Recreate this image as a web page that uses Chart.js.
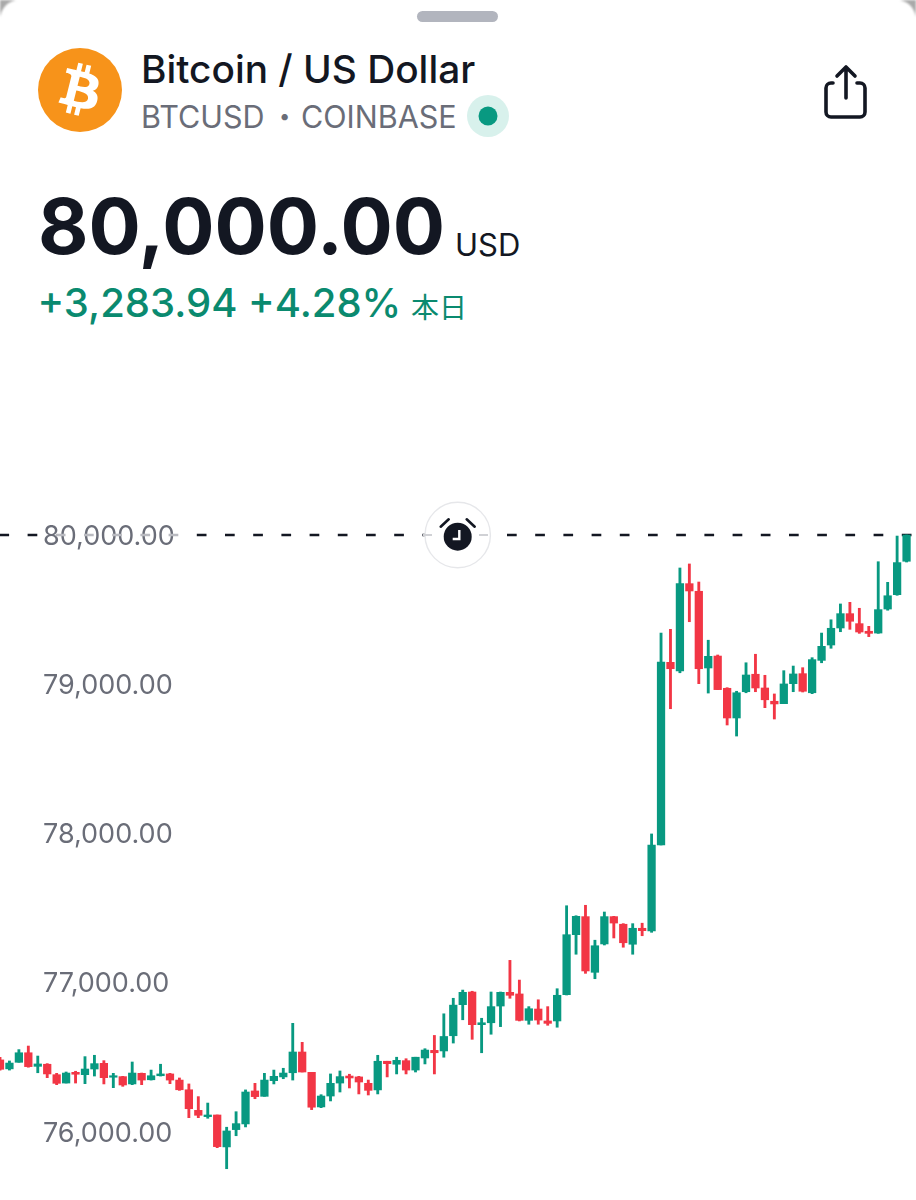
<!DOCTYPE html>
<html><head><meta charset="utf-8">
<script src="https://cdn.jsdelivr.net/npm/chart.js@4"></script>
<style>
html,body{margin:0;padding:0;background:#fff}
#page{position:relative;width:916px;height:1200px;overflow:hidden;background:#fff;font-family:Inter,sans-serif}
#page>*{position:absolute}
.t{white-space:nowrap;line-height:1}
canvas{left:0;top:440px}
</style></head><body>
<script>
const candleLabels = ["0","1","2","3","4","5","6","7","8","9","10","11","12","13","14","15","16","17","18","19","20","21","22","23","24","25","26","27","28","29","30","31","32","33","34","35","36","37","38","39","40","41","42","43","44","45","46","47","48","49","50","51","52","53","54","55","56","57","58","59","60","61","62","63","64","65","66","67","68","69","70","71","72","73","74","75","76","77","78","79","80","81","82","83","84","85","86","87","88","89","90","91","92","93","94","95","96",""];
const opens = [76483,76423,76467,76531,76440,76454,76384,76328,76400,76384,76422,76460,76367,76371,76322,76393,76350,76377,76389,76348,76283,76145,76103,76114,75900,76016,76054,76275,76239,76344,76369,76397,76536,76400,76168,76241,76328,76375,76369,76326,76282,76474,76454,76478,76415,76496,76547,76543,76645,76853,76938,76719,76732,76844,76936,76925,76748,76824,76744,76744,76920,77322,77443,77070,77260,77443,77392,77258,77365,77347,77923,79147,79089,79674,79623,79109,79189,78973,78774,78950,79067,78975,78886,78870,79004,79071,78943,79160,79263,79377,79473,79406,79355,79343,79504,79600,79824];
const highs = [76501,76476,76552,76576,76509,76458,76393,76402,76407,76505,76514,76478,76393,76373,76469,76395,76415,76454,76393,76362,76322,76237,76194,76114,76032,76136,76282,76326,76393,76415,76427,76728,76601,76400,76250,76389,76409,76387,76373,76348,76514,76474,76501,76491,76501,76558,76647,76792,76896,76951,76943,76762,76938,76938,77150,77018,76840,76886,76840,76960,77516,77449,77519,77285,77474,77445,77396,77396,77399,77997,79343,79368,79779,79806,79685,79295,79196,78977,78953,79144,79201,79060,78935,79091,79122,79111,79178,79343,79432,79538,79549,79509,79388,79821,79683,79993,80000];
const lows = [76415,76415,76467,76434,76397,76364,76317,76328,76328,76324,76375,76322,76297,76306,76317,76317,76348,76375,76324,76279,76096,76096,76092,75895,75754,75975,76034,76223,76239,76322,76357,76348,76402,76150,76163,76208,76268,76295,76255,76248,76255,76369,76389,76389,76402,76456,76389,76501,76596,76752,76621,76531,76655,76706,76896,76744,76722,76722,76715,76702,76918,77191,77063,77027,77253,77300,77238,77191,77315,77338,77923,78836,79077,79419,79004,78941,78964,78727,78653,78943,78950,78843,78767,78870,78950,78948,78937,79144,79241,79352,79368,79341,79319,79341,79496,79596,79819];
const closes = [76420,76462,76531,76438,76456,76389,76326,76395,76387,76422,76458,76364,76377,76315,76395,76348,76377,76389,76348,76283,76156,76112,76114,75902,76007,76056,76268,76237,76348,76373,76395,76536,76402,76166,76241,76326,76371,76362,76335,76279,76474,76458,76480,76415,76501,76549,76531,76640,76850,76936,76719,76732,76840,76936,76916,76748,76826,76750,76728,76916,77322,77445,77079,77248,77443,77400,77268,77365,77349,77923,79149,79104,79674,79625,79104,79187,78964,78774,78943,79062,78975,78896,78868,79002,79069,78953,79165,79254,79375,79473,79422,79350,79341,79500,79593,79815,80000];
const priceTicks = [76000,77000,78000,79000,80000];
const lastPrice = 80000;
</script>

<div id="page">
<canvas id="c" width="916" height="760" style="width:916px;height:760px"></canvas>

<svg style="left:0;top:0;filter:blur(0.8px)" width="916" height="24" fill="#a9a9a9">
<path d="M0 0 H16 Q3 3 0 17 Z"/>
<path d="M916 0 H900 Q913 3 916 17 Z"/>
</svg>

<div style="left:417px;top:11px;width:81px;height:11px;border-radius:6px;background:#b2b5be"></div>

<svg style="left:38px;top:48px" width="84" height="84" viewBox="0 0 4091 4091">
<circle cx="2045.5" cy="2045.5" r="2045.5" fill="#F7931A"/>
<path fill="#fff" d="M2947.77 1754.38c40.72,-272.26 -166.56,-418.61 -450,-516.24l91.95 -368.8 -224.5 -55.94 -89.51 359.09c-59.02,-14.72 -119.63,-28.59 -179.87,-42.34l90.16 -361.46 -224.36 -55.94 -92 368.68c-48.84,-11.12 -96.81,-22.11 -143.35,-33.69l0.26 -1.16 -309.59 -77.31 -59.72 239.78c0,0 166.56,38.18 163.05,40.53 90.91,22.69 107.35,82.87 104.62,130.57l-104.74 420.15c6.26,1.59 14.38,3.89 23.34,7.49 -7.49,-1.86 -15.46,-3.89 -23.73,-5.87l-146.81 588.57c-11.11,27.62 -39.31,69.07 -102.87,53.33 2.25,3.26 -163.17,-40.72 -163.17,-40.72l-111.46 256.98 292.15 72.83c54.35,13.63 107.61,27.89 160.06,41.3l-92.9 373.03 224.24 55.94 92 -369.07c61.26,16.63 120.71,31.97 178.91,46.43l-91.69 367.33 224.51 55.94 92.89 -372.33c382.82,72.45 670.67,43.24 791.83,-303.02 97.63,-278.78 -4.86,-439.58 -206.26,-544.44 146.69,-33.83 257.18,-130.31 286.64,-329.61l-0.07 -0.05zm-512.93 719.26c-69.38,278.78 -538.76,128.08 -690.94,90.29l123.28 -494.2c152.17,37.99 640.17,113.17 567.67,403.91zm69.43 -723.3c-63.29,253.58 -453.96,124.75 -580.69,93.16l111.77 -448.21c126.73,31.59 534.85,90.55 468.94,355.05l-0.02 0z"/>
</svg>

<div class="t" style="left:141px;top:49.5px;font-size:38.8px;font-weight:500;color:#131722">Bitcoin / US Dollar</div>
<div class="t" style="left:141px;top:102px;font-size:30.5px;font-weight:400;color:#6a6d78">BTCUSD</div>
<div class="t" style="left:279px;top:106px;font-size:20px;color:#6a6d78">•</div>
<div class="t" style="left:301px;top:102px;font-size:30.5px;font-weight:400;color:#6a6d78">COINBASE</div>
<svg style="left:466px;top:94px" width="44" height="44"><circle cx="22" cy="22" r="21" fill="#d8f1ec"/><circle cx="22" cy="22" r="9.5" fill="#089981"/></svg>

<svg style="left:800px;top:50px" width="90" height="80" fill="none" stroke="#131722" stroke-width="3.6" stroke-linecap="round" stroke-linejoin="round">
<path d="M33 33 H31 a5 5 0 0 0 -5 5 V62 a5 5 0 0 0 5 5 H60 a5 5 0 0 0 5 -5 V38 a5 5 0 0 0 -5 -5 H57"/>
<path d="M46 17 V48 M37 26 L46 17 L55 26"/>
</svg>

<div class="t" style="left:38px;top:188px;font-size:77.6px;font-weight:700;color:#131722">80,000.00</div>
<div class="t" style="left:455px;top:229px;font-size:31px;font-weight:400;color:#131722">USD</div>
<div class="t" style="left:37.5px;top:283px;font-size:40px;font-weight:500;color:#0a8a6f">+3,283.94 +4.28%</div>
<div class="t" style="left:411px;top:292px;font-size:28px;font-family:'Noto Sans CJK JP';color:#0a8a6f">本日</div>

<svg style="left:420px;top:498px" width="76" height="74" fill="none">
<circle cx="37.7" cy="37" r="32.7" fill="#fff" stroke="#e6e7ea" stroke-width="1.4"/>
<circle cx="37.7" cy="38.7" r="14" fill="#131722"/>
<path d="M20.7 28.7 L28.7 21.3 M46.7 21.3 L54.7 28.7" stroke="#131722" stroke-width="2.6" stroke-linecap="round"/>
<path d="M39.3 32 V41 H32.7" stroke="#fff" stroke-width="2.4"/>
<path d="M3 37 H12 M59 37 H68" stroke="#d0d1d5" stroke-width="2"/>
</svg>
</div>

<script>
const UP = '#089981', DOWN = '#f23645';
const barColors = opens.map((o, i) => closes[i] >= o ? UP : DOWN);
const pxPerUnit = 149.25 / 1000;
const canvasTop = 440, priceY = 535;
const yMax = lastPrice + (priceY - canvasTop) / pxPerUnit;
const yMin = lastPrice - (1200 - priceY) / pxPerUnit;

const priceLinePlugin = {
  id: 'priceLine',
  beforeDraw(chart) {
    const s = chart.scales.y;
    if (s._nudged) return;
    s._nudged = true;
    for (const item of s.getLabelItems(chart.chartArea)) item.options.translation[1] += 1.5;
  },
  beforeDatasetsDraw(chart) {
    const y = chart.scales.y.getPixelForValue(lastPrice);
    const ctx = chart.ctx;
    const W = chart.width;
    ctx.save();
    ctx.lineWidth = 2.4;
    ctx.setLineDash([9.7, 18.5]);
    ctx.lineDashOffset = 0.6;
    const seg = (a, b, col) => {
      ctx.save();
      ctx.beginPath(); ctx.rect(a, y - 3, b - a, 6); ctx.clip();
      ctx.strokeStyle = col;
      ctx.beginPath(); ctx.moveTo(0, y); ctx.lineTo(W, y); ctx.stroke();
      ctx.restore();
    };
    seg(0, 50, '#131722');
    seg(50, 182, '#b9bac0');
    seg(182, W, '#131722');
    ctx.restore();
  }
};

new Chart(document.getElementById('c'), {
  type: 'bar',
  data: {
    labels: candleLabels,
    datasets: [
      { label: 'Body', data: opens.map((o, i) => [o, closes[i]]), backgroundColor: barColors, barThickness: 7.6, grouped: false, order: 1 },
      { label: 'Wick', data: lows.map((l, i) => [l, highs[i]]), backgroundColor: barColors, barThickness: 2.2, grouped: false, order: 2 }
    ]
  },
  options: {
    responsive: false,
    animation: false,
    devicePixelRatio: 1,
    layout: { padding: 0 },
    plugins: { legend: { display: false }, tooltip: { enabled: false }, title: { display: false } },
    scales: {
      x: { display: false, offset: false, grid: { display: false } },
      y: {
        position: 'left',
        bounds: 'data',
        min: yMin, max: yMax,
        afterFit(s) { s.width = 0; s.paddingTop = 0; s.paddingBottom = 0; s.paddingLeft = 0; s.paddingRight = 0; },
        grid: { display: false, drawTicks: false },
        border: { display: false },
        afterBuildTicks(s) { s.ticks = priceTicks.map(v => ({ value: v })); },
        ticks: {
          mirror: true, padding: 43, color: '#6a6d78', includeBounds: false,
          font: { family: 'Inter', size: 27 },
          callback: v => Number(v).toLocaleString('en-US', { minimumFractionDigits: 2, maximumFractionDigits: 2 })
        }
      }
    }
  },
  plugins: [priceLinePlugin]
});
</script>
</body></html>
